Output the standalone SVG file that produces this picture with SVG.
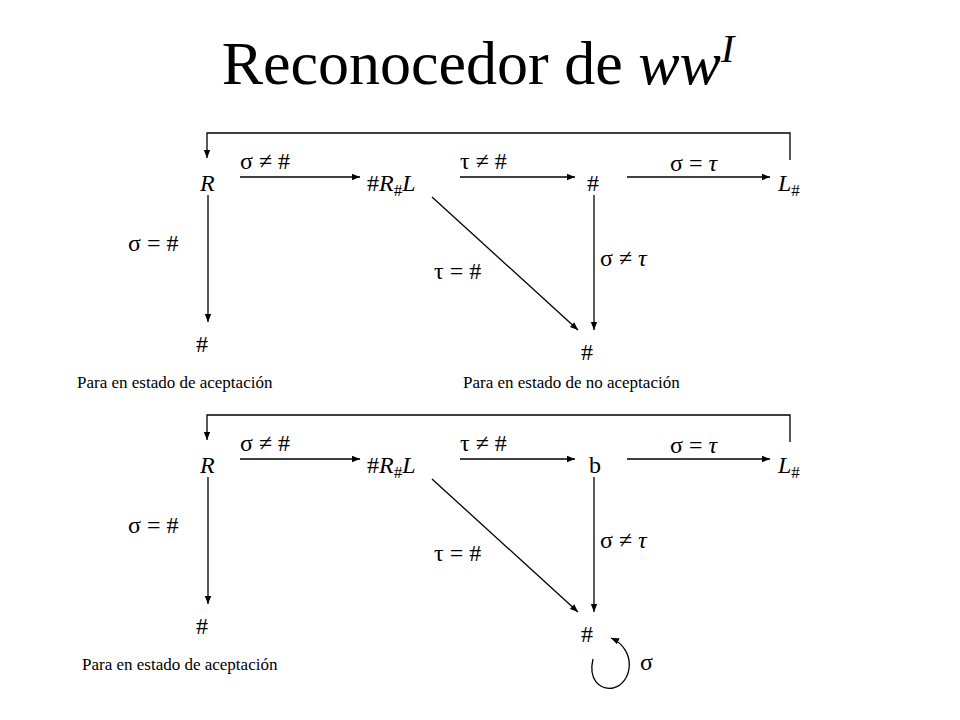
<svg xmlns="http://www.w3.org/2000/svg" width="960" height="720" viewBox="0 0 960 720">
<style>
text{font-family:"Liberation Serif","DejaVu Serif",serif;fill:#000}
.n{font-size:24px}.l{font-size:24px}.s{font-size:17px}.i{font-style:italic}
.c line,.c path,.c polyline{stroke:#000;stroke-width:1.3;fill:none}
</style>
<defs><marker id="a" viewBox="0 0 10 10" refX="10" refY="5" markerWidth="8" markerHeight="8" markerUnits="userSpaceOnUse" orient="auto"><path d="M0,1L10,5L0,9z" fill="#000"/></marker></defs>
<rect width="960" height="720" fill="#fff"/>
<text x="478" y="84" font-size="62" text-anchor="middle">Reconocedor de <tspan font-style="italic">ww</tspan><tspan font-style="italic" font-size="40" dy="-22">I</tspan></text>
<g class="c">
<polyline points="790,160 790,133 207,133 207,158" marker-end="url(#a)"/>
<line x1="240" y1="177" x2="360" y2="177" marker-end="url(#a)"/>
<line x1="460" y1="177" x2="575" y2="177" marker-end="url(#a)"/>
<line x1="627" y1="177" x2="770" y2="177" marker-end="url(#a)"/>
<line x1="208" y1="195" x2="208" y2="322" marker-end="url(#a)"/>
<line x1="432" y1="197" x2="578" y2="330" marker-end="url(#a)"/>
<line x1="594" y1="195" x2="594" y2="330" marker-end="url(#a)"/>
<polyline points="790,442 790,415 207,415 207,440" marker-end="url(#a)"/>
<line x1="240" y1="459" x2="360" y2="459" marker-end="url(#a)"/>
<line x1="460" y1="459" x2="575" y2="459" marker-end="url(#a)"/>
<line x1="627" y1="459" x2="770" y2="459" marker-end="url(#a)"/>
<line x1="208" y1="477" x2="208" y2="604" marker-end="url(#a)"/>
<line x1="432" y1="479" x2="578" y2="612" marker-end="url(#a)"/>
<line x1="594" y1="477" x2="594" y2="612" marker-end="url(#a)"/>
<path d="M593,659 C588,680 600,690 613,688 C632,684 638,650 611,638" marker-end="url(#a)"/>
</g>
<g id="top">
<g id="n1"><text class="n i" x="200" y="191">R</text></g>
<g id="n2"><text class="n" x="367" y="191">#<tspan class="i">R</tspan><tspan class="s" dy="5">#</tspan><tspan class="i" dy="-5">L</tspan></text></g>
<g id="n3"><text class="n" x="587" y="191">#</text></g>
<g id="n4"><text class="n i" x="778" y="191">L<tspan class="s" font-style="normal" dy="5">#</tspan></text></g>
<g id="n5"><text class="n" x="196" y="352">#</text></g>
<g id="n6"><text class="n" x="581" y="360">#</text></g>
<text class="l" x="240" y="169">σ ≠ #</text>
<text class="l" x="460" y="169">τ ≠ #</text>
<text class="l" x="670" y="171">σ = <tspan class="i">τ</tspan></text>
<text class="l" x="128" y="251">σ = #</text>
<text class="l" x="434" y="279">τ = #</text>
<text class="l" x="600" y="266">σ ≠ <tspan class="i">τ</tspan></text>
<text class="s" x="77" y="388">Para en estado de aceptación</text>
<text class="s" x="463" y="388">Para en estado de no aceptación</text>
</g>
<g id="bottom">
<g id="m1"><text class="n i" x="200" y="473">R</text></g>
<g id="m2"><text class="n" x="367" y="473">#<tspan class="i">R</tspan><tspan class="s" dy="5">#</tspan><tspan class="i" dy="-5">L</tspan></text></g>
<g id="m3"><text class="n" x="589" y="473">b</text></g>
<g id="m4"><text class="n i" x="778" y="473">L<tspan class="s" font-style="normal" dy="5">#</tspan></text></g>
<g id="m5"><text class="n" x="196" y="634">#</text></g>
<g id="m6"><text class="n" x="581" y="642">#</text></g>
<text class="l" x="240" y="451">σ ≠ #</text>
<text class="l" x="460" y="451">τ ≠ #</text>
<text class="l" x="670" y="453">σ = <tspan class="i">τ</tspan></text>
<text class="l" x="128" y="533">σ = #</text>
<text class="l" x="434" y="561">τ = #</text>
<text class="l" x="600" y="548">σ ≠ <tspan class="i">τ</tspan></text>
<text class="l" x="640" y="670">σ</text>
<text class="s" x="82" y="670">Para en estado de aceptación</text>
</g>
</svg>
